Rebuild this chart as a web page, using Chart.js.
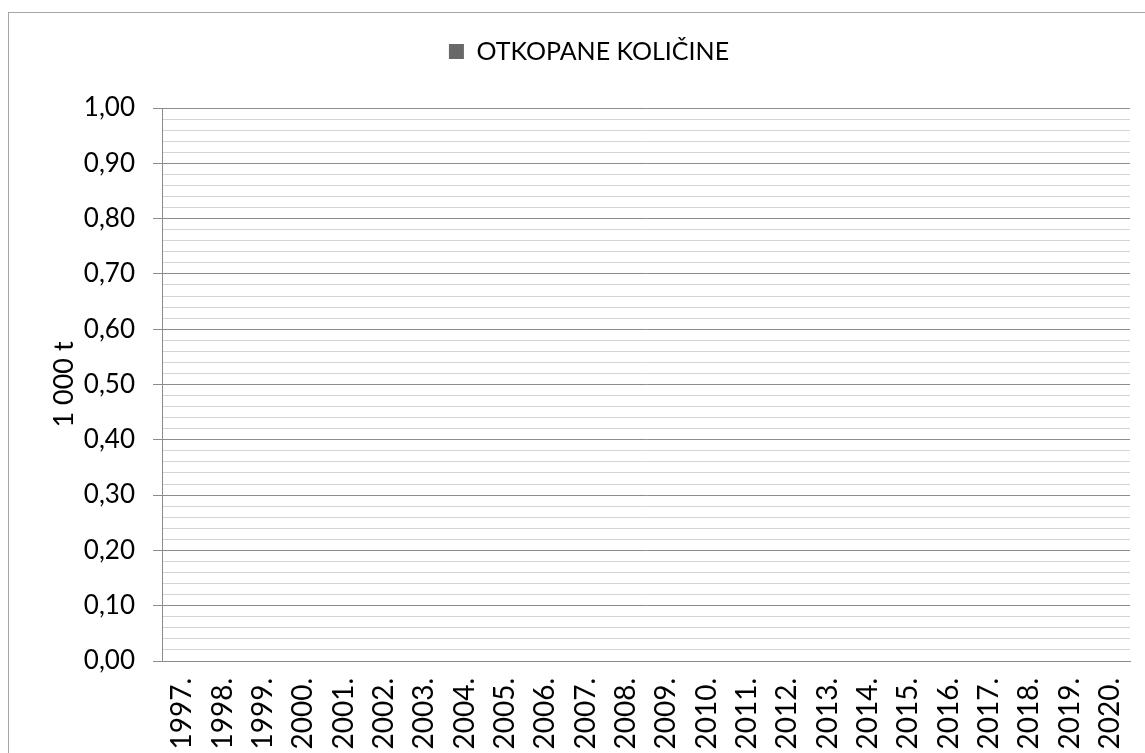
<!DOCTYPE html>
<html>
<head>
<meta charset="utf-8">
<script src="https://cdn.jsdelivr.net/npm/chart.js@4"></script>
<style>
  html, body { margin: 0; padding: 0; background: #ffffff; }
  #wrap { width: 1145px; height: 753px; position: relative; }
</style>
</head>
<body>
<div id="wrap"><canvas id="chart" width="1145" height="753"></canvas></div>
<script>
// years on the x axis
const years = ["1997.", "1998.", "1999.", "2000.", "2001.", "2002.", "2003.", "2004.",
    "2005.", "2006.", "2007.", "2008.", "2009.", "2010.", "2011.", "2012.",
    "2013.", "2014.", "2015.", "2016.", "2017.", "2018.", "2019.", "2020."];

// mined quantities (1 000 t) - nothing plotted in the source chart
const otkopaneKolicine = [0, 0, 0, 0, 0, 0, 0, 0, 0, 0, 0, 0,
    0, 0, 0, 0, 0, 0, 0, 0, 0, 0, 0, 0];

// labelled (major) y ticks and the minor step between them
const yMajorTicks = [0, 0.1, 0.2, 0.3, 0.4, 0.5, 0.6, 0.7, 0.8, 0.9, 1.0];
const yMinorPerMajor = 5;

const FONT = "Lato";

function buildYTicks() {
    var out = [];
    for (var i = 0; i < yMajorTicks.length; i++) {
        out.push({ value: yMajorTicks[i], major: true });
        if (i < yMajorTicks.length - 1) {
            var step = (yMajorTicks[i + 1] - yMajorTicks[i]) / yMinorPerMajor;
            for (var k = 1; k < yMinorPerMajor; k++) {
                out.push({ value: yMajorTicks[i] + step * k, major: false });
            }
        }
    }
    return out;
}

const frame = {
    id: "frame",
    beforeDraw: function (chart) {
        const ctx = chart.ctx;
        ctx.save();
        ctx.fillStyle = "#ffffff";
        ctx.fillRect(0, 0, chart.width, chart.height);
        ctx.strokeStyle = "#a6a6a6";
        ctx.lineWidth = 1;
        ctx.strokeRect(8.5, 12.5, 1300, 900);
        ctx.restore();
    }
};

const legendSpace = {
    id: "legendSpace",
    beforeInit: function (chart) {
        const fit = chart.legend.fit;
        chart.legend.fit = function () {
            fit.bind(chart.legend)();
            this.height += 34;
        };
    }
};

const ctx = document.getElementById("chart").getContext("2d");
new Chart(ctx, {
    type: "bar",
    data: {
        labels: years,
        datasets: [{
            label: "OTKOPANE KOLIČINE",
            data: otkopaneKolicine,
            backgroundColor: "#696969",
            borderWidth: 0
        }]
    },
    options: {
        responsive: false,
        animation: false,
        layout: { padding: { left: 48, right: 15, top: 29, bottom: 0 } },
        plugins: {
            tooltip: { enabled: false },
            legend: {
                position: "top",
                labels: {
                    boxWidth: 15,
                    boxHeight: 15,
                    padding: 10,
                    color: "#000000",
                    font: { family: FONT, size: 25 }
                }
            }
        },
        scales: {
            x: {
                grid: { display: false, drawTicks: false },
                border: { display: true, color: "#8c8c8c", width: 1 },
                ticks: {
                    autoSkip: false,
                    minRotation: 90,
                    maxRotation: 90,
                    padding: 17,
                    color: "#000000",
                    font: { family: FONT, size: 28 }
                },
                afterFit: function (scale) {
                    scale.height = 92;
                    scale.paddingLeft = 0;
                    scale.paddingRight = 0;
                }
            },
            y: {
                min: 0,
                max: 1,
                afterBuildTicks: function (scale) { scale.ticks = buildYTicks(); },
                grid: {
                    tickLength: 9,
                    lineWidth: 1,
                    color: function (c) { return c.tick && c.tick.major ? "#8c8c8c" : "#d4d4d4"; },
                    tickColor: function (c) { return c.tick && c.tick.major ? "#8c8c8c" : "rgba(0,0,0,0)"; }
                },
                border: { display: true, color: "#8c8c8c", width: 1 },
                ticks: {
                    autoSkip: false,
                    padding: 18,
                    color: "#000000",
                    font: { family: FONT, size: 26 },
                    callback: function (value, index, ticks) {
                        if (!ticks[index].major) return "";
                        return value.toFixed(2).replace(".", ",");
                    }
                },
                title: {
                    display: true,
                    text: "1 000 t",
                    color: "#000000",
                    padding: 0,
                    font: { family: FONT, size: 27 }
                },
                afterFit: function (scale) { scale.width = 114; }
            }
        }
    },
    plugins: [frame, legendSpace]
});
</script>
</body>
</html>
